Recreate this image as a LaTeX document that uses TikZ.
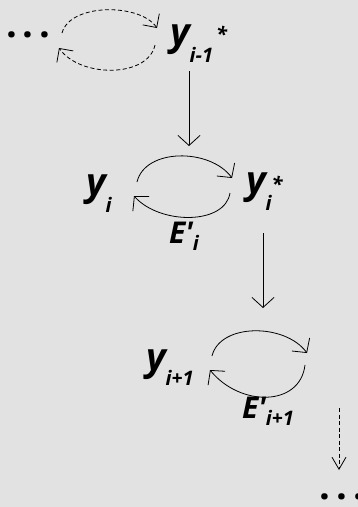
\documentclass[tikz,border=0pt]{standalone}
\usepackage{fontspec}
\setmainfont{Open Sans}
\usetikzlibrary{arrows.meta}
\definecolor{bgmarble}{RGB}{226,226,226}
\newcommand\bigf{\fontsize{38}{38}\selectfont\itshape\bfseries}
\newcommand\subf{\fontsize{20}{20}\selectfont\itshape\bfseries}
\newcommand\capf{\fontsize{30}{30}\selectfont\itshape\bfseries}
\newcommand\dotsf{\fontsize{38}{38}\selectfont\bfseries}
\begin{document}
\begin{tikzpicture}[x=1pt,y=-1pt,
  lbl/.style={inner sep=0pt, outer sep=0pt, anchor=base west},
  arr/.style={line width=0.8pt, -{Straight Barb[length=10pt,width=22pt]}},
  darr/.style={line width=0.8pt, dash pattern=on 4pt off 2.5pt, -{Straight Barb[length=10pt,width=20pt]}},
  vdarr/.style={line width=0.8pt, dash pattern=on 4pt off 2.5pt, -{Straight Barb[length=12pt,width=14pt]}}]
\fill[bgmarble] (0,0) rectangle (358,507);
\useasboundingbox (0,0) rectangle (358,507);
% labels
\node[lbl] (dotsA) at (6,37.5) {\dotsf .\kern6pt.\kern6pt.};
\node[lbl] (yim1) at (170,45) {{\bigf y}\raisebox{-17pt}{\subf i-1}\kern3pt\raisebox{4pt}{\subf *}};
\node[lbl] (yi) at (86,195) {{\bigf y}\raisebox{-17pt}{\subf i}};
\node[lbl] (yis) at (246,193) {{\bigf y}\rlap{\raisebox{-17pt}{\subf i}}\kern6pt\raisebox{2pt}{\subf *}};
\node[lbl] (Ei) at (169,243) {{\capf E\textquotesingle}\raisebox{-7pt}{\subf i}};
\node[lbl] (yip1) at (146,370) {{\bigf y}\raisebox{-15pt}{\subf i+1}};
\node[lbl] (Eip1) at (242,418) {{\capf E\textquotesingle}\raisebox{-7pt}{\subf i+1}};
\node[lbl] (dotsB) at (319.5,499) {\dotsf .\kern6pt.\kern6pt.};
% loop 1 (dashed)
\coordinate (l1a) at (62,33);
\coordinate (l1b) at (157,28);
\coordinate (l1c) at (155,45);
\coordinate (l1d) at (59,48);
\draw[darr] (l1a) .. controls (70,3) and (140,3) .. (l1b);
\draw[darr] (l1c) .. controls (148,78) and (80,78) .. (l1d);
% vertical 1
\coordinate (v1a) at (189,71);
\coordinate (v1b) at (189,146);
\draw[arr] (v1a) -- (v1b);
% loop 2
\coordinate (l2a) at (137,182);
\coordinate (l2b) at (232,178);
\coordinate (l2c) at (230,193);
\coordinate (l2d) at (134,196);
\draw[arr] (l2a) .. controls (145,148) and (210,148) .. (l2b);
\draw[arr] (l2c) .. controls (225,225) and (160,225) .. (l2d);
% vertical 2
\coordinate (v2a) at (263,233);
\coordinate (v2b) at (263,308);
\draw[arr] (v2a) -- (v2b);
% loop 3
\coordinate (l3a) at (212,356);
\coordinate (l3b) at (307,353);
\coordinate (l3c) at (305,365);
\coordinate (l3d) at (210,370);
\draw[arr] (l3a) .. controls (220,323) and (285,323) .. (l3b);
\draw[arr] (l3c) .. controls (300,407) and (240,407) .. (l3d);
% vertical 3 (dashed)
\coordinate (v3a) at (339,408);
\coordinate (v3b) at (339,470);
\draw[vdarr] (v3a) -- (v3b);
\end{tikzpicture}
\end{document}
